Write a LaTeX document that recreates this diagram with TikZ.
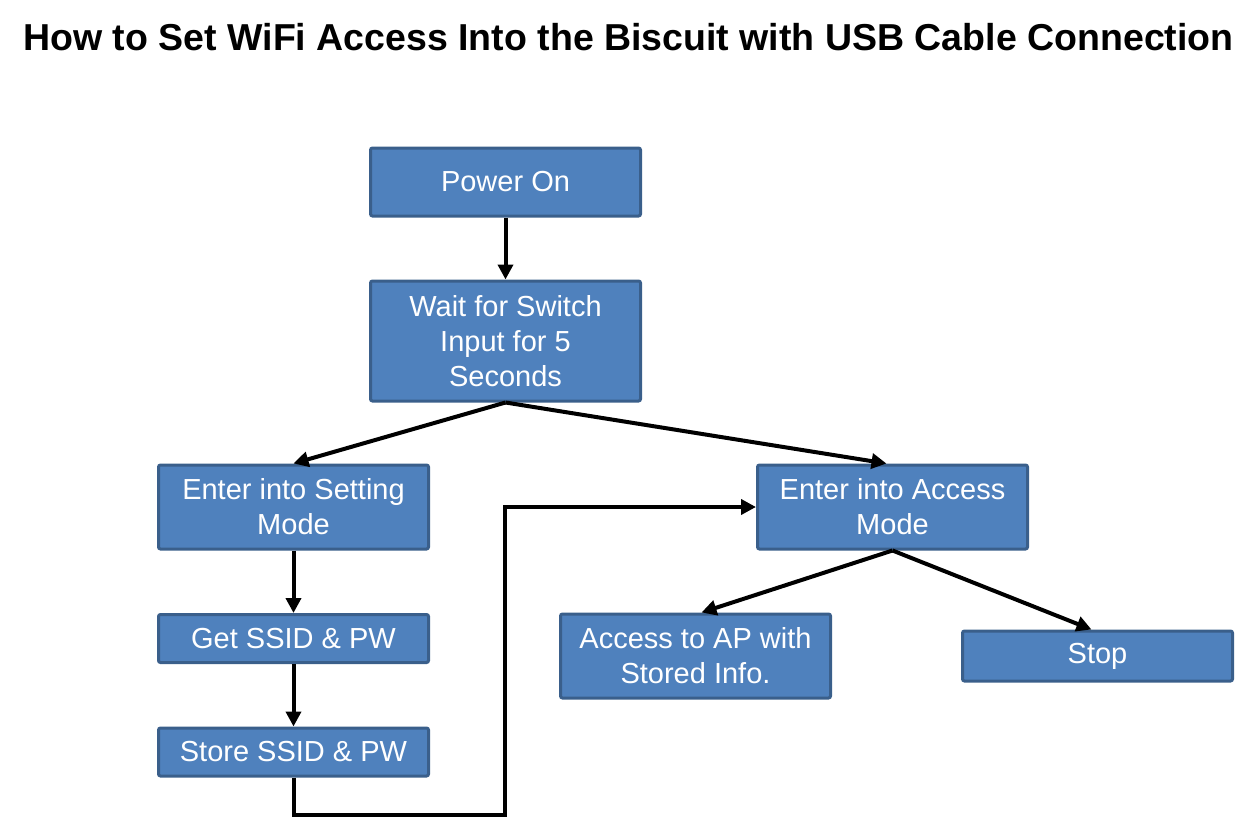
\documentclass[tikz,border=0pt]{standalone}
\usepackage{fontspec}
\setmainfont{Liberation Sans}
\usetikzlibrary{arrows.meta}
\definecolor{boxfill}{HTML}{4F81BD}
\definecolor{boxline}{HTML}{3A5F8B}
\begin{document}
\begin{tikzpicture}[x=0.5pt, y=-0.5pt,
    box/.style={rectangle, draw=boxline, fill=boxfill, line width=1.5pt, rounded corners=1pt, text=white, align=center, inner sep=0pt, minimum width=135pt, font=\fontsize{14.5}{17.5}\selectfont},
    flow/.style={line width=2pt, -{Triangle[length=7.5pt, width=7.5pt]}}]
    \useasboundingbox (0,0) rectangle (1259,819);
    \node[font=\bfseries\fontsize{18.75}{22}\selectfont] (title) at (628.5,37) {How to Set WiFi Access Into the Biscuit with USB Cable Connection};
    \node[box, minimum height=34pt] (power) at (505.5,182) {Power On};
    \node[box, minimum height=60pt] (wait) at (505.5,341) {Wait for Switch\\Input for 5\\Seconds};
    \node[box, minimum height=42pt] (setting) at (293.5,507) {Enter into Setting\\Mode};
    \node[box, minimum height=24pt] (get) at (293.5,638.5) {Get SSID \& PW};
    \node[box, minimum height=24pt] (store) at (293.5,752) {Store SSID \& PW};
    \node[box, minimum height=42pt] (access) at (892.5,507) {Enter into Access\\Mode};
    \node[box, minimum height=42pt] (ap) at (695.5,656) {Access to AP with\\Stored Info.};
    \node[box, minimum height=25pt] (stop) at (1097.5,656) {Stop};
    \coordinate (bend) at (505,815);
    \draw[flow] (power) -- (wait);
    \draw[flow] (wait.south) -- (setting.north);
    \draw[flow] (wait.south) -- ([xshift=-3pt]access.north);
    \draw[flow] (setting) -- (get);
    \draw[flow] (get) -- (store);
    \draw[flow] (store.south) |- (bend) |- (access.west);
    \draw[flow] (access.south) -- ([xshift=3pt]ap.north);
    \draw[flow] (access.south) -- ([xshift=-3pt]stop.north);
\end{tikzpicture}
\end{document}
